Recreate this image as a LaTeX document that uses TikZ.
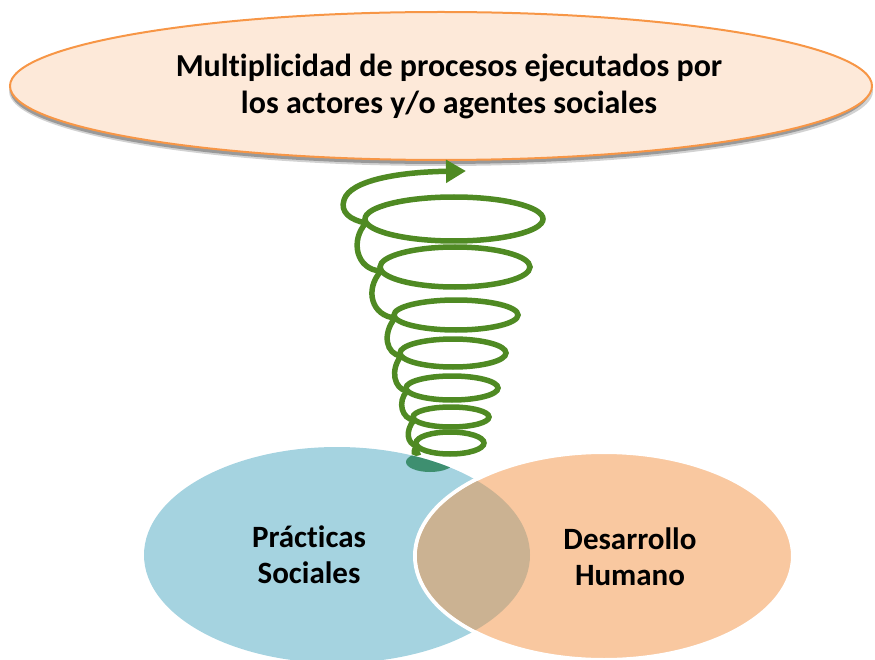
\documentclass[tikz,border=0pt]{standalone}
\usepackage{fontspec}
\setmainfont{Carlito}[RawFeature={-liga,-clig,-dlig}]
\usetikzlibrary{arrows.meta}
\definecolor{topfill}{HTML}{FDE9D9}
\definecolor{topborder}{HTML}{F79646}
\definecolor{bluefill}{HTML}{A5D3E0}
\definecolor{orangefill}{HTML}{F9C8A0}
\definecolor{overlapfill}{HTML}{CBB292}
\definecolor{spiralgreen}{HTML}{4F8A23}
\definecolor{tealblob}{HTML}{3E8F70}
\tikzset{
  coil/.style={draw=spiralgreen, line width=5.5pt},
  bigtext/.style={font=\bfseries\fontsize{32}{37}\selectfont, align=center, text=black},
  venntext/.style={font=\bfseries\fontsize{31}{36}\selectfont, align=center, text=black},
}
\begin{document}
\begin{tikzpicture}[x=1pt,y=-1pt]
\useasboundingbox (0,0) rectangle (875,660);
% bottom venn
\path[fill=bluefill] (337,555) ellipse [x radius=193pt, y radius=108pt];
\begin{scope}
  \clip (337,555) ellipse [x radius=193pt, y radius=108pt];
  \fill[tealblob] (430,462) ellipse [x radius=24pt, y radius=10pt];
\end{scope}
\path[fill=orangefill, draw=white, line width=4pt] (604,556) ellipse [x radius=189pt, y radius=104pt];
\begin{scope}
  \clip (337,555) ellipse [x radius=193pt, y radius=108pt];
  \fill[overlapfill] (604,556) ellipse [x radius=187pt, y radius=102pt];
\end{scope}
\node[venntext] (ps) at (309,555) {Prácticas\\Sociales};
\node[venntext] (dh) at (630,557) {Desarrollo\\Humano};
% top ellipse with shadow
\fill[black!35, opacity=0.5] (441,91) ellipse [x radius=432pt, y radius=75pt];
\fill[black!40] (440,90) ellipse [x radius=430pt, y radius=74pt];
\path[fill=topfill, draw=topborder, line width=2pt] (441,86) ellipse [x radius=431pt, y radius=74pt];
\node[bigtext] (top) at (449,86) {Multiplicidad de procesos ejecutados por\\los actores y/o agentes sociales};
% spiral coils
\draw[coil] (454,219) ellipse [x radius=89pt, y radius=22pt];
\draw[coil] (455,267) ellipse [x radius=75pt, y radius=20pt];
\draw[coil] (456,315) ellipse [x radius=62pt, y radius=15pt];
\draw[coil] (453,353) ellipse [x radius=53pt, y radius=14pt];
\draw[coil] (452,388) ellipse [x radius=46pt, y radius=12pt];
\draw[coil] (451,417) ellipse [x radius=38pt, y radius=10pt];
\draw[coil] (450,443) ellipse [x radius=34pt, y radius=11pt];
% connectors
\coordinate (c1) at (366,223);
\coordinate (c2) at (381,271);
\coordinate (c3) at (395,318);
\coordinate (c4) at (401,356);
\coordinate (c5) at (407,391);
\coordinate (c6) at (414,420);
\coordinate (c7) at (417,446);
\coordinate (c8) at (420,452);
\draw[coil] (c1) .. controls (350,240) and (356,270) .. (c2);
\draw[coil] (c2) .. controls (364,290) and (372,316) .. (c3);
\draw[coil] (c3) .. controls (382,334) and (386,354) .. (c4);
\draw[coil] (c4) .. controls (390,370) and (394,389) .. (c5);
\draw[coil] (c5) .. controls (397,402) and (402,419) .. (c6);
\draw[coil] (c6) .. controls (405,431) and (407,444) .. (c7);
\draw[coil] (c7) .. controls (412,452) and (414,455) .. (c8);
% top curl with arrow
\coordinate (tip) at (466,171);
\draw[coil, -{Triangle[length=20pt,width=22pt]}] (c1) .. controls (350,220) and (340,212) .. (344,200) .. controls (350,180) and (400,172) .. (tip);
\end{tikzpicture}
\end{document}
